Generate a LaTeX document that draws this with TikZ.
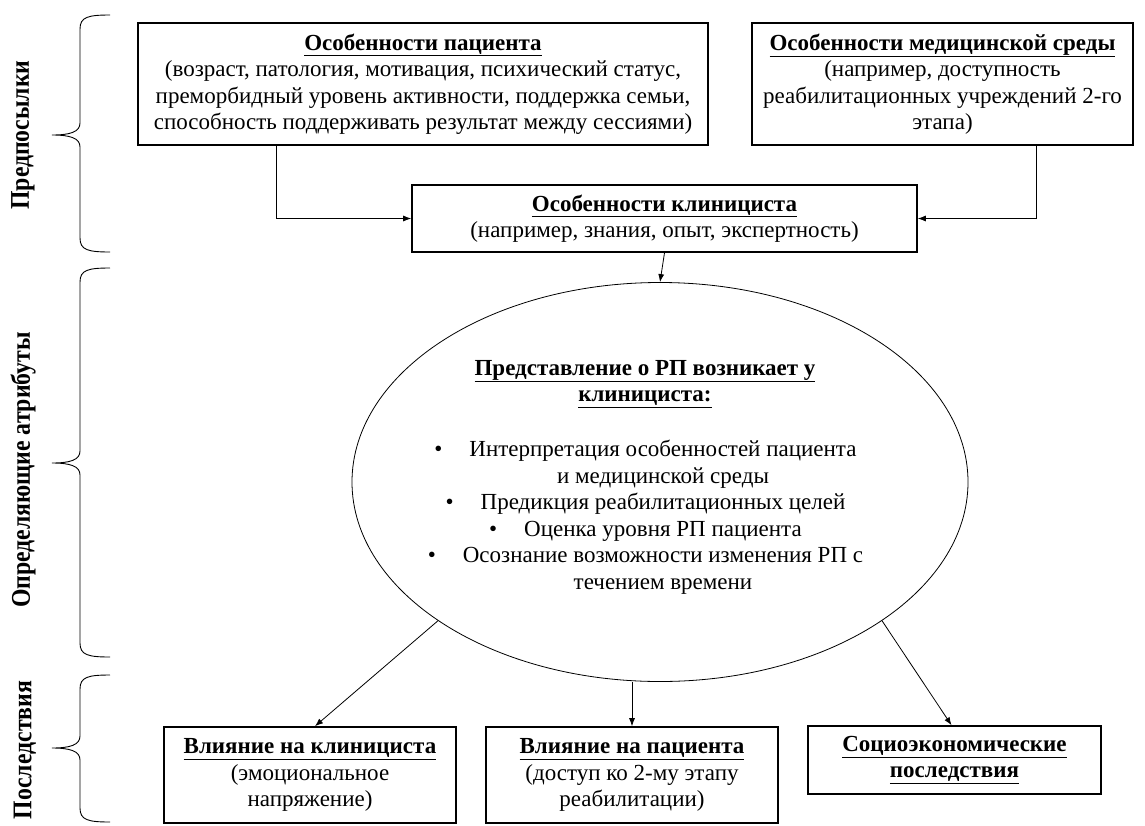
\documentclass[tikz,border=0pt]{standalone}
\usepackage{fontspec}
\setmainfont{Liberation Serif}
\usetikzlibrary{arrows.meta,shapes.geometric}
\newcommand{\sidebrace}[3]{%
  \draw[braceline] (110,#1) .. controls (88,#1) and (80,#1+2) .. (80,#1+14)
    -- (80,#2-12) .. controls (80,#2-3) and (70,#2) .. (52,#2)
    .. controls (70,#2) and (80,#2+3) .. (80,#2+12)
    -- (80,#3-14) .. controls (80,#3-2) and (88,#3) .. (110,#3);}
\newcommand{\ul}[1]{\underline{\textbf{#1}}}
\newcommand{\bul}{\llap{\textbullet\hspace{27pt}}}
\newcommand{\narrow}[1]{\scalebox{0.88}[1]{#1}}
\begin{document}
\begin{tikzpicture}[x=1pt,y=-1pt,
  box/.style={draw, line width=1.6pt, inner sep=1pt, align=center,
    font=\fontsize{23}{26.5}\selectfont},
  conn/.style={line width=0.8pt, -{Latex[length=8pt,width=6pt]}},
  braceline/.style={line width=0.9pt},
  side/.style={rotate=90, font=\bfseries\fontsize{27}{30}\selectfont},
  ebody/.style={align=center, font=\fontsize{23}{26.5}\selectfont}]
\useasboundingbox[fill=white] (0,0) rectangle (1145,825);

% braces and labels
\sidebrace{15}{135}{252}
\sidebrace{268}{463}{657}
\sidebrace{675}{748}{822}
\node[side] (lab1) at (23,135) {\narrow{Предпосылки}};
\node[side] (lab2) at (23,470) {\narrow{Определяющие атрибуты}};
\node[side] (lab3) at (25,750) {\narrow{Последствия}};

% top boxes
\node[box, minimum width=570pt, minimum height=122pt] (pat) at (423,84)
  {\ul{Особенности пациента}\\(возраст, патология, мотивация, психический статус,\\преморбидный уровень активности, поддержка семьи,\\способность поддерживать результат между сессиями)};
\node[box, minimum width=381pt, minimum height=122pt] (med) at (942.5,84)
  {\ul{Особенности медицинской среды}\\(например, доступность\\реабилитационных учреждений 2-го\\этапа)};
\node[box, minimum width=505pt, minimum height=67pt] (cli) at (664.5,218.5)
  {\ul{Особенности клинициста}\\(например, знания, опыт, экспертность)};

% ellipse
\node[draw, ellipse, line width=0.8pt, minimum width=616pt, minimum height=399pt, inner sep=0pt] (ell) at (660,482) {};
\node[ebody] (etitle) at (645,384) {\ul{Представление о РП возникает у}\\\ul{клинициста:}};
\node[ebody] (elist) at (663,517) {\bul Интерпретация особенностей пациента\\и медицинской среды\\\bul Предикция реабилитационных целей\\\bul Оценка уровня РП пациента\\\bul Осознание возможности изменения РП с\\течением времени};

% bottom boxes
\node[box, minimum width=292pt, minimum height=96pt] (b1) at (310,775)
  {\ul{Влияние на клинициста}\\(эмоциональное\\напряжение)};
\node[box, minimum width=292pt, minimum height=96pt] (b2) at (632,775)
  {\ul{Влияние на пациента}\\(доступ ко 2-му этапу\\реабилитации)};
\node[box, minimum width=293pt, minimum height=68pt] (b3) at (954.5,760)
  {\ul{Социоэкономические}\\\ul{последствия}};

% connectors
\draw[conn] ([xshift=139pt]pat.south west) |- (cli.west);
\draw[conn] ([xshift=285pt]med.south west) |- (cli.east);
\draw[conn] (cli.south) -- (ell.north);
\draw[conn] (ell.212) -- ([xshift=5pt]b1.north);
\draw[conn] (b2.north |- ell.south) -- (b2.north);
\draw[conn] (ell.328) -- ([xshift=-3pt]b3.north);
\end{tikzpicture}
\end{document}
